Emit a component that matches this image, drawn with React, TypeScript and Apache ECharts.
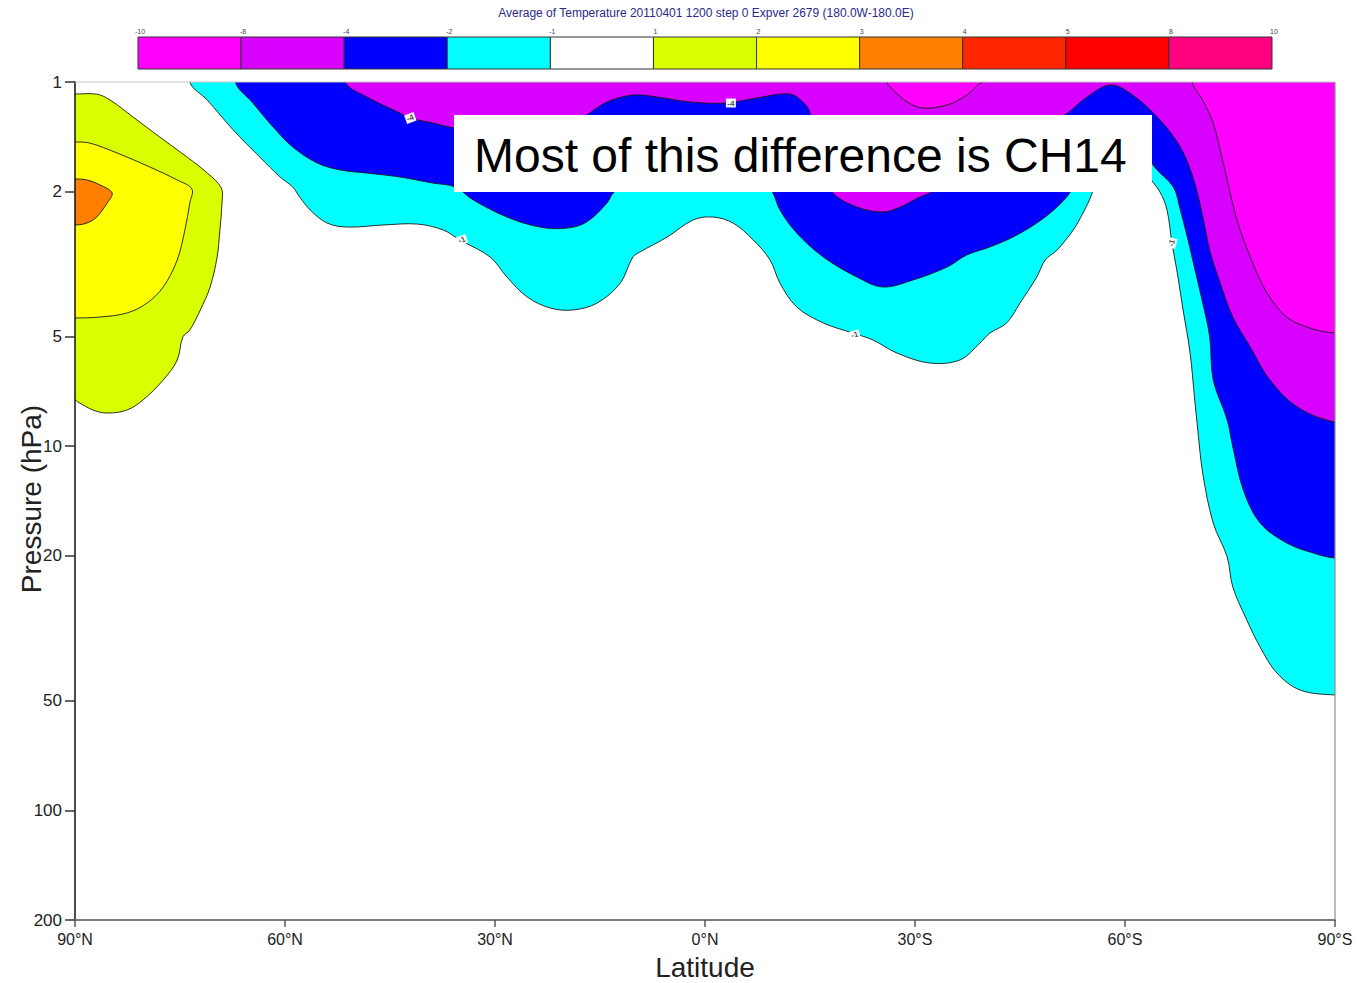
import { useEffect, useRef } from "react";
import * as echarts from "echarts";

// Colour scale: interval boundaries and the fill for each interval
const levelBounds = [-10, -8, -4, -2, -1, 1, 2, 3, 4, 5, 8, 10];
const levelColors = [
  "#ff00ff", "#d800ff", "#0000ff", "#00ffff", "#ffffff",
  "#d9ff00", "#ffff00", "#ff8000", "#ff2600", "#ff0000", "#ff0080",
];

const pressureTicks = [1, 2, 5, 10, 20, 50, 100, 200];
const latitudeTicks = [90, 60, 30, 0, -30, -60, -90];

// Contour lines as [latitude (deg, + = N), pressure (hPa)]
const contourMinus1: [number, number][] = [
  [73.6, 1.0], [71.1, 1.121], [67.4, 1.354], [63.6, 1.607], [60.7, 1.823], [58.9, 1.942],
  [57.9, 2.069], [56.4, 2.246], [54.0, 2.439], [51.1, 2.502], [46.0, 2.47], [41.1, 2.455],
  [37.4, 2.549], [35.0, 2.716], [30.7, 3.023], [28.3, 3.431], [25.4, 3.894], [22.1, 4.174],
  [18.9, 4.227], [15.4, 4.045], [12.1, 3.564], [10.3, 3.023], [9.3, 2.93], [5.4, 2.665],
  [1.7, 2.393], [-1.1, 2.348], [-4.0, 2.439], [-6.9, 2.716], [-9.3, 3.082], [-10.7, 3.564],
  [-13.1, 4.147], [-16.9, 4.588], [-21.1, 4.89], [-24.0, 5.11], [-27.4, 5.548], [-32.1, 5.91],
  [-36.4, 5.8], [-39.3, 5.206], [-40.7, 4.89], [-43.1, 4.588], [-45.0, 4.045], [-47.4, 3.431],
  [-48.6, 3.082], [-50.3, 2.893], [-52.6, 2.549], [-54.0, 2.289], [-55.3, 2.017], [-56.4, 1.637],
  [-59.3, 1.489], [-62.1, 1.537], [-63.3, 1.8], [-65.0, 2.005], [-66.0, 2.246], [-66.7, 2.767],
  [-67.4, 3.283], [-68.3, 4.227], [-69.3, 5.548], [-70.0, 7.61], [-70.3, 8.64], [-71.1, 11.85],
  [-72.6, 16.25], [-74.6, 20.15], [-75.4, 24.36], [-77.4, 30.0], [-79.3, 35.6], [-81.7, 41.96],
  [-85.0, 46.71], [-90, 48.2],
];

const contourMinus2: [number, number][] = [
  [67.1, 1.0], [64.6, 1.142], [61.7, 1.329], [58.9, 1.508], [55.4, 1.669], [52.1, 1.744],
  [48.3, 1.778], [43.6, 1.823], [38.9, 1.894], [35.7, 1.942], [33.1, 2.109], [28.3, 2.348],
  [23.6, 2.502], [19.7, 2.518], [16.9, 2.423], [14.0, 2.149], [13.1, 2.017], [9.3, 1.744],
  [0.7, 1.637], [-7.9, 1.8], [-9.7, 2.017], [-10.7, 2.246], [-13.1, 2.598], [-16.9, 3.023],
  [-21.7, 3.431], [-25.4, 3.655], [-29.7, 3.497], [-34.6, 3.221], [-37.4, 2.985], [-40.7, 2.838],
  [-44.0, 2.665], [-47.4, 2.439], [-50.3, 2.204], [-52.1, 2.017], [-55.0, 1.637], [-59.3, 1.398],
  [-62.9, 1.489], [-64.0, 1.69], [-66.9, 1.942], [-67.9, 2.246], [-68.9, 2.665], [-70.0, 3.283],
  [-71.1, 4.045], [-72.1, 5.014], [-72.6, 6.58], [-74.6, 8.474], [-75.4, 10.05], [-76.9, 13.19],
  [-79.3, 16.25], [-83.1, 18.44], [-86.9, 19.65], [-90, 20.28],
];

const contourMinus4: [number, number][] = [
  [51.4, 1.0], [48.3, 1.099], [43.6, 1.216], [42.1, 1.256], [38.9, 1.296], [35.7, 1.338],
  [26.4, 1.398], [18.6, 1.296], [16.9, 1.232], [14.0, 1.135], [10.3, 1.086], [6.9, 1.099],
  [2.1, 1.135], [-3.1, 1.142], [-7.4, 1.106], [-12.1, 1.079], [-14.0, 1.135], [-15.0, 1.216],
  [-15.7, 1.637], [-18.3, 2.017], [-21.7, 2.204], [-25.4, 2.275], [-27.9, 2.204], [-30.7, 2.069],
  [-32.1, 2.017], [-39.3, 1.69], [-46.4, 1.398], [-51.4, 1.232], [-54.6, 1.099], [-57.9, 1.019],
  [-61.1, 1.086], [-65.0, 1.272], [-67.9, 1.508], [-69.7, 1.823], [-71.0, 2.289], [-72.1, 2.893],
  [-73.6, 3.564], [-75.4, 4.419], [-77.9, 5.342], [-80.7, 6.58], [-84.6, 7.8], [-90, 8.58],
];

const contourMinus8South: [number, number][] = [
  [-69.6, 1.0], [-71.1, 1.121], [-72.6, 1.296], [-73.6, 1.537], [-74.6, 1.858], [-76.0, 2.393],
  [-77.9, 3.023], [-80.3, 3.797], [-83.1, 4.419], [-86.4, 4.737], [-90, 4.89],
];

const contourMinus8Cap: [number, number][] = [
  [-26.0, 1.0], [-26.9, 1.052], [-28.9, 1.135], [-31.1, 1.179], [-34.6, 1.157], [-37.4, 1.086],
  [-39.3, 1.006], [-39.7, 1.0],
];

const contourPlus1: [number, number][] = [
  [90, 1.079], [86.9, 1.08], [85.0, 1.12], [81.7, 1.248], [77.9, 1.416], [74.0, 1.607],
  [71.1, 1.778], [69.1, 1.954], [69.0, 2.149], [69.3, 2.549], [69.7, 3.023], [70.7, 3.655],
  [72.1, 4.227], [73.6, 4.797], [74.6, 5.014], [75.4, 5.8], [77.4, 6.58], [80.3, 7.47],
  [82.6, 7.96], [85.4, 8.11], [87.4, 7.96], [89.6, 7.56], [90, 7.47],
];

const contourPlus2: [number, number][] = [
  [90, 1.461], [87.9, 1.471], [84.0, 1.566], [79.3, 1.712], [75.4, 1.858], [73.3, 1.967],
  [73.6, 2.149], [74.3, 2.549], [75.4, 3.082], [77.4, 3.655], [79.7, 4.045], [82.6, 4.309],
  [86.4, 4.419], [90, 4.447],
];

const contourPlus3: [number, number][] = [
  [90, 1.846], [88.3, 1.858], [86.4, 1.918], [84.7, 2.017], [85.4, 2.149], [86.9, 2.348],
  [88.3, 2.439], [90, 2.47],
];

// Inline contour labels: position on the line and the level it marks
const labelPoints: [number, number][] = [
  [42.1, 1.256], [-3.7, 1.142], [34.7, 2.716], [-21.4, 4.95], [-66.7, 2.767],
];
const labelLevels = [-4, -4, -1, -1, -1];
const labelTilt = [-20, 0, -20, -15, -75];

const contourSet = [
  { level: -1, line: contourMinus1 },
  { level: -2, line: contourMinus2 },
  { level: -4, line: contourMinus4 },
  { level: -8, line: contourMinus8South },
  { level: -8, line: contourMinus8Cap },
  { level: 1, line: contourPlus1 },
  { level: 2, line: contourPlus2 },
  { level: 3, line: contourPlus3 },
];

// Axis extents
const LAT_N = 90;
const LAT_S = -90;
const P_TOP = 1;
const P_BOTTOM = 200;

function fillFor(level: number): string {
  const i = levelBounds.indexOf(level);
  return level < 0 ? levelColors[i - 1] : levelColors[i];
}

// Push a line end that sits on the frame a little beyond it, so the closing
// part of each filled region (and its outline) falls outside the clip area.
function pushOut(pt: [number, number]): [number, number] {
  if (pt[0] >= LAT_N) return [LAT_N + 6, pt[1]];
  if (pt[0] <= LAT_S) return [LAT_S - 6, pt[1]];
  return [pt[0], P_TOP * 0.8];
}

function closedRing(line: [number, number][]): [number, number][] {
  const first = line[0];
  const last = line[line.length - 1];
  const a = pushOut(last);
  const b = pushOut(first);
  const ring = line.slice();
  ring.push(a);
  const lastOnSide = last[0] >= LAT_N || last[0] <= LAT_S;
  const firstOnSide = first[0] >= LAT_N || first[0] <= LAT_S;
  if (lastOnSide !== firstOnSide) {
    const sideLat = lastOnSide ? a[0] : b[0];
    ring.push([sideLat, P_TOP * 0.8]);
  }
  ring.push(b);
  return ring;
}

function latLabel(v: number): string {
  const r = Math.round(v);
  if (r > 0) return `${r}°N`;
  if (r < 0) return `${-r}°S`;
  return "0°N";
}

const FONT = "'Liberation Sans', Arial, Helvetica, sans-serif";

export default function App() {
  const ref = useRef<HTMLDivElement>(null);

  useEffect(() => {
    if (!ref.current) return;
    const chart = echarts.init(ref.current, undefined, { renderer: "svg" });

    // colour bar built from the level table
    const barX = 138;
    const barW = 1134;
    const barY = 37;
    const barH = 32;
    const cellW = barW / levelColors.length;
    const barElements: any[] = [];
    levelColors.forEach((c, i) => {
      barElements.push({
        type: "rect",
        shape: { x: barX + i * cellW, y: barY, width: cellW, height: barH },
        style: { fill: c, stroke: "#333", lineWidth: 1 },
      });
    });
    levelBounds.forEach((b, i) => {
      barElements.push({
        type: "text",
        x: barX + i * cellW + 2,
        y: 31,
        style: {
          text: String(b),
          fill: "#444",
          font: `7px ${FONT}`,
          textAlign: "center",
          textVerticalAlign: "middle",
        },
      });
    });

    const toXY = (api: any, pt: [number, number]) => api.coord([pt[0], Math.log10(pt[1])]);

    chart.setOption({
      animation: false,
      backgroundColor: "#ffffff",
      grid: { left: 75, right: 28, top: 82, bottom: 63, containLabel: false },
      xAxis: {
        type: "value",
        inverse: true,
        min: LAT_S,
        max: LAT_N,
        interval: 30,
        z: 5,
        axisLine: { show: true, onZero: false, lineStyle: { color: "#7a7a7a", width: 2 } },
        axisTick: { show: true, length: 7, lineStyle: { color: "#555", width: 1.5 } },
        axisLabel: {
          customValues: latitudeTicks,
          formatter: (v: number) => latLabel(v),
          fontSize: 16,
          fontFamily: FONT,
          color: "#222",
          margin: 11,
        },
        splitLine: { show: false },
      },
      yAxis: {
        type: "value",
        inverse: true,
        min: Math.log10(P_TOP),
        max: Math.log10(P_BOTTOM),
        z: 5,
        axisLine: { show: true, onZero: false, lineStyle: { color: "#111", width: 1.5 } },
        axisTick: {
          show: true,
          length: 10,
          customValues: pressureTicks.map((p) => Math.log10(p)),
          lineStyle: { color: "#333", width: 1.5 },
        },
        axisLabel: {
          customValues: pressureTicks.map((p) => Math.log10(p)),
          formatter: (v: number) => String(Math.round(Math.pow(10, v))),
          fontSize: 17,
          fontFamily: FONT,
          color: "#222",
          margin: 13,
        },
        splitLine: { show: false },
      },
      series: [
        {
          type: "custom",
          clip: true,
          z: 2,
          data: contourSet.map((c, i) => [c.line[0][0], Math.log10(c.line[0][1]), i]),
          renderItem: (params: any, api: any) => {
            const c = contourSet[params.dataIndex];
            const ring = closedRing(c.line).map((pt) => toXY(api, pt));
            return {
              type: "polygon",
              shape: { points: ring, smooth: 0.35 },
              style: { fill: fillFor(c.level), stroke: "#1a1a1a", lineWidth: 0.9 },
            };
          },
        },
        {
          type: "scatter",
          z: 4,
          symbol: "rect",
          symbolSize: [10, 9],
          itemStyle: { color: "#ffffff", opacity: 0.95 },
          label: {
            show: true,
            position: "inside",
            fontSize: 8,
            fontWeight: "bold",
            fontFamily: FONT,
            color: "#444",
            formatter: (p: any) => String(labelLevels[p.dataIndex]),
          },
          data: labelPoints.map((pt, i) => ({
            value: [pt[0], Math.log10(pt[1])],
            symbolRotate: -labelTilt[i],
            label: { rotate: -labelTilt[i] },
          })),
        },
      ],
      graphic: [
        {
          type: "text",
          x: 706,
          y: 13,
          z: 100,
          style: {
            text: "Average of Temperature 20110401 1200 step 0 Expver 2679 (180.0W-180.0E)",
            fill: "#2a2a8a",
            font: `12px ${FONT}`,
            textAlign: "center",
            textVerticalAlign: "middle",
          },
        },
        { type: "group", z: 100, children: barElements },
        {
          type: "line",
          z: 100,
          shape: { x1: 75, y1: 82, x2: 1335, y2: 82 },
          style: { stroke: "#c8c8c8", lineWidth: 1 },
        },
        {
          type: "line",
          z: 100,
          shape: { x1: 1335, y1: 82, x2: 1335, y2: 920 },
          style: { stroke: "#8c8c8c", lineWidth: 1.2 },
        },
        {
          type: "rect",
          z: 100,
          shape: { x: 454, y: 115, width: 698, height: 77 },
          style: { fill: "#ffffff", stroke: null },
        },
        {
          type: "text",
          z: 101,
          x: 474,
          y: 155,
          style: {
            text: "Most of this difference is CH14",
            fill: "#000",
            font: `48px ${FONT}`,
            textAlign: "left",
            textVerticalAlign: "middle",
          },
        },
        {
          type: "text",
          z: 101,
          x: 31,
          y: 499,
          rotation: Math.PI / 2,
          style: {
            text: "Pressure (hPa)",
            fill: "#222",
            font: `28px ${FONT}`,
            textAlign: "center",
            textVerticalAlign: "middle",
          },
        },
        {
          type: "text",
          z: 101,
          x: 705,
          y: 967,
          style: {
            text: "Latitude",
            fill: "#222",
            font: `28px ${FONT}`,
            textAlign: "center",
            textVerticalAlign: "middle",
          },
        },
      ],
    });

    return () => chart.dispose();
  }, []);

  return (
    <div
      ref={ref}
      style={{ position: "absolute", left: 0, top: 0, width: 1363, height: 983 }}
    />
  );
}
